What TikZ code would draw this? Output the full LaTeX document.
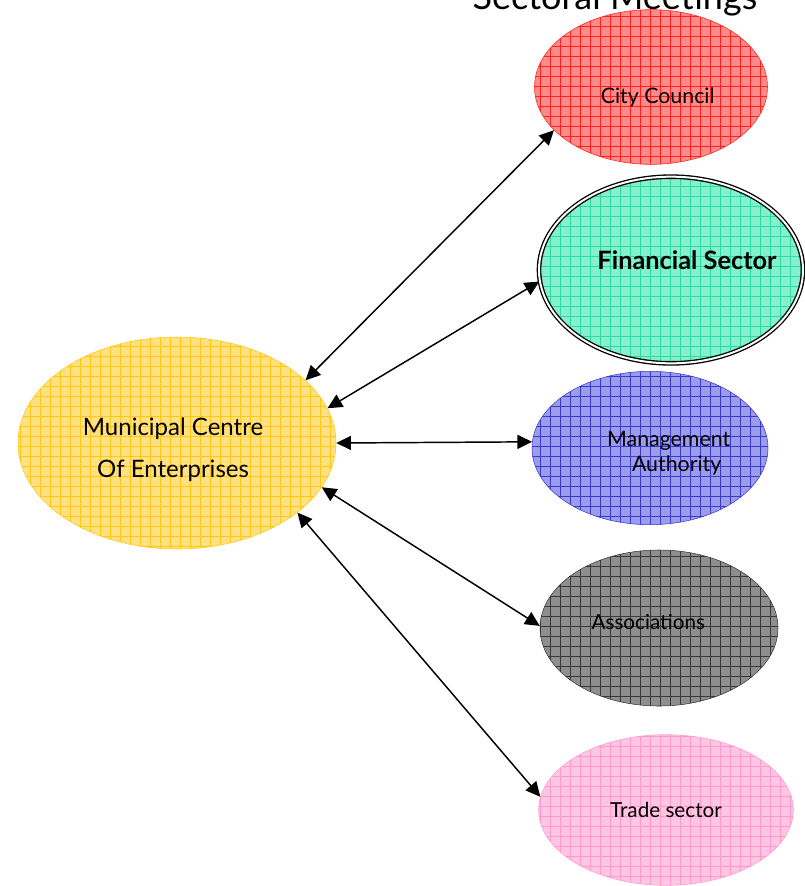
\documentclass[tikz,border=0pt]{standalone}
\usepackage{fontspec}
\setmainfont{Lato}
\usetikzlibrary{arrows.meta,shapes.geometric,patterns.meta}

\tikzset{
  blob/.style 2 args={ellipse, draw=#2, preaction={fill=#1},
    pattern={Hatch[angle=0,distance=7.5pt,line width=0.4pt]}, pattern color=#2},
  link/.style={{Triangle[length=11pt,width=10.5pt]}-{Triangle[length=11pt,width=10.5pt]}, line width=1.1pt}
}
\definecolor{cityfill}{HTML}{FF8A8A}
\definecolor{cityline}{HTML}{FF2020}
\definecolor{finfill}{HTML}{86F0CC}
\definecolor{finline}{HTML}{2ADCA4}
\definecolor{mgmtfill}{HTML}{9C9CEC}
\definecolor{mgmtline}{HTML}{3A3AC8}
\definecolor{assocfill}{HTML}{8E8E8E}
\definecolor{assocline}{HTML}{383838}
\definecolor{tradefill}{HTML}{FFC6E4}
\definecolor{tradeline}{HTML}{FF9ACC}
\definecolor{munifill}{HTML}{FFE184}
\definecolor{muniline}{HTML}{FFC814}

\begin{document}
\begin{tikzpicture}[x=0.75pt,y=-0.75pt]
  \useasboundingbox (0,0) rectangle (805,886);
  % Title, cut by the top edge
  \path (615,9) node[anchor=base,font=\fontsize{27}{31}\selectfont] (title) {Sectoral Meetings};
  % Define the centre on the left
  \path (177,443) node[blob={munifill}{muniline},minimum width=238.5pt,minimum height=159pt,
    label={[xshift=-3pt,yshift=-5pt,align=center,font=\fontsize{18}{32}\selectfont]center:Municipal Centre\\Of Enterprises}] (muni) {};
  % Define the sectors on the right
  \path (651,87) node[blob={cityfill}{cityline},minimum width=174.75pt,minimum height=116pt,
    label={[xshift=5pt,yshift=-7.5pt,font=\fontsize{16}{19}\selectfont]center:City Council}] (city) {};
  \path (671,270) node[blob={finfill}{finline},draw=black,double,double distance=1.5pt,line width=1pt,
    minimum width=198pt,minimum height=140pt,
    label={[xshift=12pt,yshift=7.5pt,font=\fontsize{19}{22}\bfseries]center:Financial Sector}] (fin) {};
  \path (650,448) node[blob={mgmtfill}{mgmtline},minimum width=177pt,minimum height=115pt,
    label={[xshift=14pt,yshift=-4pt,align=center,font=\fontsize{16}{19}\selectfont]center:Management\\\hspace*{12pt}Authority}] (mgmt) {};
  \path (659,628) node[blob={assocfill}{assocline},minimum width=178.5pt,minimum height=117pt,
    label={[xshift=-8pt,yshift=4.5pt,font=\fontsize{15.5}{18}\selectfont]center:Associations}] (assoc) {};
  \path (666,810) node[blob={tradefill}{tradeline},minimum width=191pt,minimum height=113pt,
    label={[font=\fontsize{15.5}{18}\selectfont]center:Trade sector}] (trade) {};
  % Draw the links
  \draw[link] (muni.26) -- (city.204);
  \draw[link] (muni.13) -- (fin.185);
  \draw[link] (muni.0) -- (mgmt.177);
  \draw[link] (muni.343) -- (assoc.179);
  \draw[link] (muni.330) -- (trade.174);
\end{tikzpicture}
\end{document}
